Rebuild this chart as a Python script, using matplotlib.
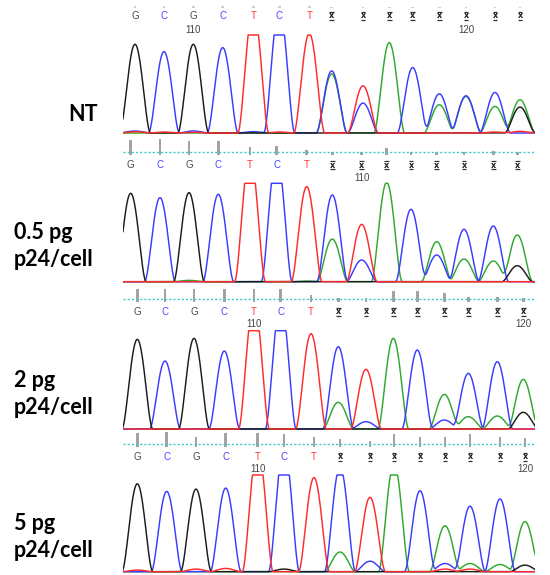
import numpy as np
import matplotlib
matplotlib.use("Agg")
import matplotlib.pyplot as plt

# ---------------------------------------------------------------------------
# Sanger trace data: four samples, 15 called bases each (scan position of each
# base call, per-channel peak intensity, and base-call quality value)
# ---------------------------------------------------------------------------
called_bases = ["G", "C", "G", "C", "T", "C", "T",
                "x", "x", "x", "x", "x", "x", "x", "x"]
sample_labels = ["NT", "0.5 pg\np24/cell", "2 pg\np24/cell", "5 pg\np24/cell"]
first_base_number = [108, 102, 106, 106]

# NT
nt_pos = [135, 164, 193.3, 222.7, 253.3, 279.3, 309.3, 331.7, 363, 389.3, 412.7, 439.3, 466, 495, 520]
nt_A = [0, 0, 0, 0, 0, 0, 0, 178, 0, 272, 0, 85, 110, 80, 100]
nt_C = [6, 245, 6, 257, 4, 375, 0, 187, 90, 0, 197, 118, 112, 122, 0]
nt_G = [267, 0, 267, 0, 0, 0, 0, 0, 0, 0, 0, 0, 0, 0, 78]
nt_T = [4, 3, 2, 0, 375, 3, 300, 0, 142, 0, 0, 0, 0, 3, 5]
nt_qv = [8, 8, 8, 8, 8, 8, 8, 6, 6, 6, 6, 6, 6, 6, 6]

# 0.5 pg p24/cell
s05_pos = [130.7, 160, 189, 218.3, 250, 276.7, 306.7, 332.3, 361.7, 386.7, 411, 436.7, 464, 493.3, 517.3]
s05_A = [0, 0, 4, 0, 0, 0, 2, 128, 0, 298, 0, 120, 68, 62, 140]
s05_C = [0, 252, 0, 262, 0, 380, 0, 260, 65, 0, 217, 80, 157, 167, 0]
s05_G = [265, 0, 267, 0, 0, 0, 0, 0, 0, 0, 0, 0, 0, 0, 48]
s05_T = [0, 0, 0, 0, 380, 0, 285, 0, 172, 0, 0, 0, 0, 0, 0]
s05_qv = [60, 64, 56, 56, 32, 36, 20, 12, 12, 28, 12, 12, 12, 16, 12]

# 2 pg p24/cell
s2_pos = [137.3, 165, 194, 224.3, 254, 280.7, 311, 338.3, 366, 393.3, 417.3, 444.3, 468.3, 497.3, 523.3]
s2_A = [0, 0, 0, 0, 0, 0, 0, 80, 0, 272, 0, 104, 37, 39, 149]
s2_C = [0, 204, 0, 234, 0, 380, 0, 247, 22, 0, 237, 27, 167, 202, 0]
s2_G = [269, 0, 272, 0, 0, 0, 0, 0, 0, 0, 0, 0, 0, 0, 50]
s2_T = [0, 0, 0, 0, 380, 0, 286, 0, 179, 0, 0, 0, 0, 0, 0]
s2_qv = [52, 52, 52, 52, 52, 52, 28, 16, 16, 44, 44, 36, 20, 20, 16]

# 5 pg p24/cell
s5_pos = [137.3, 166.7, 196, 225.7, 257.7, 284, 314, 340, 370, 394, 420, 445, 470, 500, 525]
s5_A = [0, 0, 0, 0, 0, 0, 0, 60, 0, 330, 0, 140, 25, 22, 153]
s5_C = [0, 245, 0, 255, 0, 380, 0, 320, 32, 0, 247, 25, 200, 222, 0]
s5_G = [268, 0, 252, 0, 0, 8, 0, 0, 0, 0, 0, 0, 0, 0, 20]
s5_T = [5, 0, 8, 10, 380, 0, 287, 0, 227, 0, 0, 8, 8, 0, 0]
s5_qv = [56, 60, 40, 56, 56, 52, 40, 32, 24, 52, 40, 40, 52, 40, 36]

samples = [
    (nt_pos, nt_A, nt_C, nt_G, nt_T, nt_qv),
    (s05_pos, s05_A, s05_C, s05_G, s05_T, s05_qv),
    (s2_pos, s2_A, s2_C, s2_G, s2_T, s2_qv),
    (s5_pos, s5_A, s5_C, s5_G, s5_T, s5_qv),
]

SATURATION = 295          # detector ceiling: peaks above it are flat-topped
SCAN_RANGE = (123, 535)   # visible scan window

# ---------------------------------------------------------------------------
# layout (figure pixels)
# ---------------------------------------------------------------------------
W, H = 550, 575
fig = plt.figure(figsize=(W / 100, H / 100), dpi=100)

# per panel: header top, cyan line y, quality-bar foot, letter y, number y,
#            trace ceiling y, trace baseline y, label centre y
layout = [
    dict(top=0, cyan=None, bar=8, letter=16, number=30, ceil=35, base=133,
         label_y=114.5, bar_color="#cfcfcf"),
    dict(top=136, cyan=151.7, bar=155, letter=165, number=177.7, ceil=183.3,
         base=281.7, label_y=246, bar_color="#a3a3a3"),
    dict(top=284, cyan=299.3, bar=301.7, letter=311.7, number=324.3, ceil=330.7,
         base=429, label_y=394, bar_color="#a3a3a3"),
    dict(top=431, cyan=444, bar=446.7, letter=456.7, number=469, ceil=475,
         base=571.7, label_y=537, bar_color="#a3a3a3"),
]

channel_colors = {"A": "#2fa82f", "C": "#3b3bff", "G": "#1c1c1c", "T": "#ff2b2b"}
letter_colors = {"G": "#4a4a4a", "C": "#4848ff", "T": "#ff3a3a"}


def px_axes(x0, y0, x1, y1):
    return fig.add_axes([x0 / W, 1 - y1 / H, (x1 - x0) / W, (y1 - y0) / H])


def peak_shape(d, half_width=15.5):
    u = np.clip(np.abs(d) / half_width, 0, 1)
    return (1 - u ** 2) ** 2


scan = np.linspace(SCAN_RANGE[0], SCAN_RANGE[1], 1400)

for k, (pos, A, C, G, T, qv) in enumerate(samples):
    lay = layout[k]
    pos = np.asarray(pos, dtype=float)

    # ---- trace panel --------------------------------------------------------
    pad = 3
    ax = px_axes(SCAN_RANGE[0], lay["ceil"] - pad, SCAN_RANGE[1], lay["base"] + pad)
    unit = (lay["base"] - lay["ceil"]) / SATURATION
    ax.set_xlim(*SCAN_RANGE)
    ax.set_ylim(-pad / unit, SATURATION + pad / unit)
    ax.axis("off")

    for ch, heights in (("A", A), ("C", C), ("G", G), ("T", T)):
        h = np.asarray(heights, dtype=float)
        signal = (h[None, :] * peak_shape(scan[:, None] - pos[None, :])).sum(axis=1)
        signal = np.minimum(signal, SATURATION)
        ax.plot(scan, signal, color=channel_colors[ch], lw=1.05,
                solid_joinstyle="round")

    # ---- header: quality bars, base calls, base numbers ---------------------
    hx = px_axes(SCAN_RANGE[0], lay["top"], SCAN_RANGE[1], lay["ceil"] - pad)
    hx.set_xlim(*SCAN_RANGE)
    hx.set_ylim(lay["ceil"] - pad, lay["top"])
    hx.axis("off")

    qv_px = np.asarray(qv, dtype=float) / 4.0
    hx.bar(pos, -qv_px, bottom=lay["bar"], width=2.6, color=lay["bar_color"],
           edgecolor="none", clip_on=False)
    if lay["cyan"] is not None:
        hx.plot(SCAN_RANGE, [lay["cyan"]] * 2, color="#3cc8c8", lw=1.0,
                linestyle=(0, (1.5, 1.5)), zorder=3)

    for i, b in enumerate(called_bases):
        x = pos[i]
        y = lay["letter"]
        if b == "x":
            hx.text(x, y, "x", ha="center", va="center", fontsize=5.8,
                    fontweight="bold", color="#1e1e1e", family="DejaVu Sans",
                    clip_on=False)
            for dy in (-3.8, 3.8):
                hx.plot([x - 2.3, x + 2.3], [y + dy, y + dy], color="#333333",
                        lw=0.9, solid_capstyle="butt", clip_on=False)
        else:
            hx.text(x, y, b, ha="center", va="center", fontsize=7,
                    color=letter_colors[b], family="Liberation Sans",
                    clip_on=False)
        number = first_base_number[k] + i
        if number % 10 == 0:
            hx.text(x, lay["number"], str(number), ha="center", va="center",
                    fontsize=7, color="#444444", family="Liberation Sans",
                    clip_on=False)

    # ---- sample label -------------------------------------------------------
    if k == 0:
        fig.text(98 / W, 1 - lay["label_y"] / H, sample_labels[k], ha="right",
                 va="center", fontsize=15.5, fontweight="bold", family="Lato")
    else:
        fig.text(14 / W, 1 - lay["label_y"] / H, sample_labels[k], ha="left",
                 va="center", fontsize=15.5, fontweight="bold", family="Lato",
                 linespacing=1.3)

fig.savefig("out.png", dpi=100, facecolor="white")
